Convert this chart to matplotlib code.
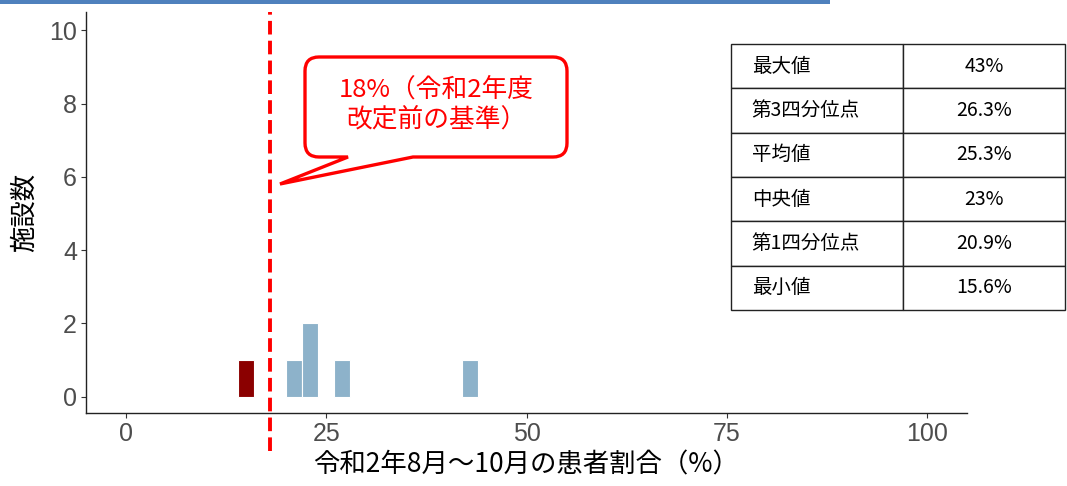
import numpy as np
import matplotlib
matplotlib.use('Agg')
import matplotlib.pyplot as plt
from matplotlib.path import Path
from matplotlib.patches import PathPatch, Rectangle

plt.rcParams['font.family'] = ['Noto Sans CJK JP', 'DejaVu Sans']

# patient ratio per facility (%), Aug-Oct R2
ratios = [15.6, 20.9, 22.4, 23.6, 26.3, 43.0]
bin_width = 2
threshold = 18

stat_labels = ['最大値', '第3四分位点', '平均値', '中央値', '第1四分位点', '最小値']
stat_values = ['43%', '26.3%', '25.3%', '23%', '20.9%', '15.6%']

x_ticks = [0, 25, 50, 75, 100]
y_ticks = [0, 2, 4, 6, 8, 10]

counts, edges = np.histogram(ratios, bins=np.arange(0, 100 + bin_width, bin_width))

fig = plt.figure(figsize=(10.67, 4.86), dpi=100)
ax = fig.add_axes([0.0806, 0.1502, 0.8257, 0.8251])

colors = ['#8B0000' if e < threshold else '#8DB2CA' for e in edges[:-1]]
mask = counts > 0
ax.bar(edges[:-1][mask], counts[mask], width=bin_width, align='edge',
       color=np.array(colors)[mask], edgecolor='white', linewidth=0.8, zorder=2)

# 18% reference line, runs past the axis
ax.plot([threshold, threshold], [-0.095, 1.0], transform=ax.get_xaxis_transform(),
        color='#FF0000', linewidth=2.8, linestyle=(0, (3.5, 1.6)), clip_on=False, zorder=3)

ax.set_xlim(-5, 105)
ax.set_ylim(-0.45, 10.5)
ax.set_xticks(x_ticks)
ax.set_yticks(y_ticks)
for lab in ax.get_xticklabels() + ax.get_yticklabels():
    lab.set_family('Liberation Sans')
    lab.set_fontsize(18)
    lab.set_color('#4D4D4D')
ax.tick_params(length=3.5, width=0.8, color='#333333', pad=3)
for s in ['top', 'right']:
    ax.spines[s].set_visible(False)
for s in ['left', 'bottom']:
    ax.spines[s].set_color('#222222')
    ax.spines[s].set_linewidth(1.0)

ax.set_xlabel('令和2年8月～10月の患者割合（%）', fontsize=19, labelpad=4)
ax.set_ylabel('施設数', fontsize=19, labelpad=8)

# overlay in pixel coordinates for decorations
ov = fig.add_axes([0, 0, 1, 1], facecolor='none')
ov.set_xlim(0, 1067)
ov.set_ylim(486, 0)
ov.axis('off')

ov.add_patch(Rectangle((0, 0), 830, 4.5, color='#4F81BD', lw=0))

# speech bubble
x0, x1, y0, y1, r = 305, 567, 57, 157, 14
verts = [(x0 + r, y0), (x1 - r, y0), (x1, y0), (x1, y0 + r), (x1, y1 - r),
         (x1, y1), (x1 - r, y1), (413, y1), (280, 184), (348, y1), (x0 + r, y1),
         (x0, y1), (x0, y1 - r), (x0, y0 + r), (x0, y0), (x0 + r, y0), (x0 + r, y0)]
codes = [Path.MOVETO, Path.LINETO, Path.CURVE3, Path.CURVE3, Path.LINETO,
         Path.CURVE3, Path.CURVE3, Path.LINETO, Path.LINETO, Path.LINETO, Path.LINETO,
         Path.CURVE3, Path.CURVE3, Path.LINETO, Path.CURVE3, Path.CURVE3, Path.CLOSEPOLY]
ov.add_patch(PathPatch(Path(verts, codes), facecolor='white', edgecolor='#FF0000',
                       linewidth=2.4, joinstyle='miter'))
ov.text(436, 105, '18%（令和2年度\n改定前の基準）', color='#FF0000', fontsize=18.5,
        ha='center', va='center', linespacing=1.2)

# summary table
cells = [[l, v] for l, v in zip(stat_labels, stat_values)]
tb = ov.table(cellText=cells, colWidths=[172, 162],
              bbox=[731 / 1067, 1 - 310 / 486, 334 / 1067, 266 / 486])
tb.auto_set_font_size(False)
for (row, col), cell in tb.get_celld().items():
    cell.set_fontsize(14)
    cell.set_edgecolor('#222222')
    cell.set_linewidth(1.0)
    cell.get_text().set_ha('left' if col == 0 else 'center')
    cell._loc = 'left' if col == 0 else 'center'
    cell.PAD = 0.12

fig.savefig('out.png', dpi=100)
